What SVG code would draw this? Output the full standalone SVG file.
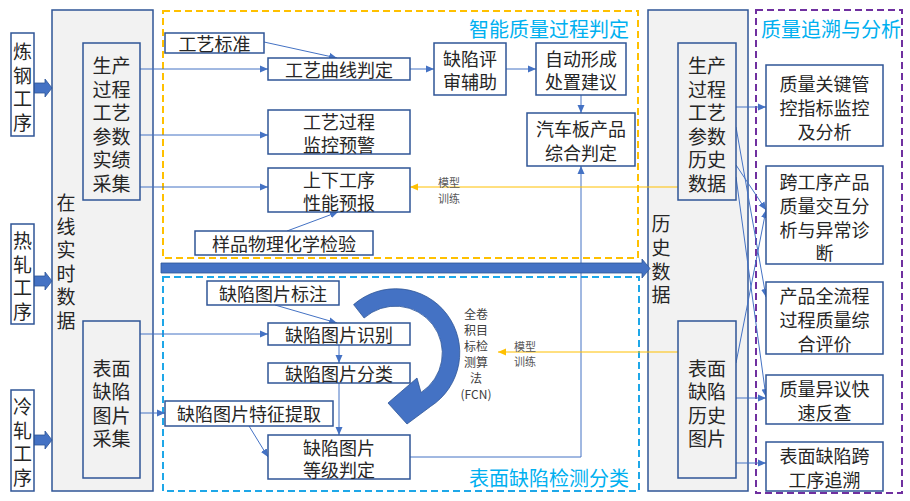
<svg xmlns="http://www.w3.org/2000/svg" width="910" height="501" viewBox="0 0 910 501">
<style>
.box{fill:#ffffff;stroke:#2f5597;stroke-width:1.5}
.gbox{fill:#f2f2f2;stroke:#2f5597;stroke-width:1.5}
.t{font-family:"Noto Sans CJK SC","Liberation Sans",sans-serif;font-size:18px;fill:#262626;text-anchor:middle;dominant-baseline:central}
.v{font-size:19px}
.title{font-family:"Noto Sans CJK SC","Liberation Sans",sans-serif;font-size:20px;fill:#00b0f0;text-anchor:middle;dominant-baseline:central}
.small{font-family:"Noto Sans CJK SC","Liberation Sans",sans-serif;font-size:11px;fill:#595959;text-anchor:middle;dominant-baseline:central}
.fcn{font-family:"Noto Sans CJK SC","Liberation Sans",sans-serif;font-size:12px;fill:#404040;text-anchor:middle;dominant-baseline:central}
.conn{stroke:#4472c4;stroke-width:1;fill:none;marker-end:url(#ab)}
.yconn{stroke:#ffc000;stroke-width:1;fill:none;marker-end:url(#ay)}
.thick{fill:#4472c4;stroke:#2f5597;stroke-width:0.8}
</style>
<defs>
<marker id="ab" viewBox="0 0 8 8" refX="8" refY="4" markerWidth="8" markerHeight="8" markerUnits="userSpaceOnUse" orient="auto"><path d="M0,0.5 L8,4 L0,7.5 Z" fill="#4472c4"/></marker>
<marker id="ay" viewBox="0 0 8 8" refX="8" refY="4" markerWidth="8" markerHeight="8" markerUnits="userSpaceOnUse" orient="auto"><path d="M0,0.5 L8,4 L0,7.5 Z" fill="#ffc000"/></marker>
</defs>
<rect width="910" height="501" fill="#ffffff"/>

<!-- region frames -->
<g id="frames">
<rect x="163" y="11" width="475" height="247" fill="none" stroke="#ffc000" stroke-width="2" stroke-dasharray="7 4"/>
<text class="title" x="549" y="28">智能质量过程判定</text>
<rect x="163" y="277" width="476" height="214" fill="none" stroke="#1ea7e8" stroke-width="2" stroke-dasharray="7 4"/>
<text class="title" x="549" y="477">表面缺陷检测分类</text>
<rect x="756" y="10" width="146" height="483" fill="none" stroke="#7030a0" stroke-width="2" stroke-dasharray="7 4"/>
<text class="title" x="831" y="28">质量追溯与分析</text>
</g>

<!-- big containers -->
<g id="online">
<rect class="gbox" x="52" y="10" width="101" height="481"/>
<text class="t v" x="66"><tspan x="66" y="201">在</tspan><tspan x="66" y="224.5">线</tspan><tspan x="66" y="248">实</tspan><tspan x="66" y="271.5">时</tspan><tspan x="66" y="295">数</tspan><tspan x="66" y="318.5">据</tspan></text>
</g>
<g id="history">
<rect class="gbox" x="648" y="10" width="100" height="481"/>
<text class="t v" x="661"><tspan x="661" y="222">历</tspan><tspan x="661" y="246">史</tspan><tspan x="661" y="270">数</tspan><tspan x="661" y="293">据</tspan></text>
</g>

<!-- connectors -->
<g id="connectors">
<line class="conn" x1="140" y1="69" x2="268" y2="69"/>
<line class="conn" x1="140" y1="135" x2="268" y2="135"/>
<line class="conn" x1="140" y1="187" x2="268" y2="187"/>
<line class="conn" x1="264" y1="42" x2="337" y2="58"/>
<line class="conn" x1="410" y1="69" x2="434" y2="69"/>
<line class="conn" x1="506" y1="69" x2="536" y2="69"/>
<line class="conn" x1="581" y1="95" x2="581" y2="113"/>
<line class="conn" x1="287" y1="231" x2="338" y2="212"/>
<polyline class="conn" points="410,457 581,457 581,166"/>
<line class="conn" x1="275" y1="305" x2="337" y2="323"/>
<line class="conn" x1="140" y1="334" x2="268" y2="334"/>
<line class="conn" x1="339" y1="345" x2="339" y2="363"/>
<line class="conn" x1="339" y1="383" x2="339" y2="435"/>
<line class="conn" x1="140" y1="413" x2="165" y2="413"/>
<line class="conn" x1="249" y1="426" x2="268" y2="457"/>
<line class="yconn" x1="678" y1="187" x2="410" y2="187"/>
<line class="yconn" x1="678" y1="352" x2="498" y2="352"/>
<line class="conn" x1="736" y1="107" x2="766" y2="107"/>
<line class="conn" x1="736" y1="127" x2="766" y2="297"/>
<line class="conn" x1="736" y1="165" x2="766" y2="210"/>
<line class="conn" x1="736" y1="177" x2="766" y2="397"/>
<line class="conn" x1="736" y1="363" x2="766" y2="210"/>
<line class="conn" x1="736" y1="398" x2="766" y2="398"/>
<line class="conn" x1="736" y1="463" x2="766" y2="463"/>
</g>

<!-- thick arrows -->
<g id="thick-arrows">
<polygon class="thick" points="34,83 45,83 45,79 52,88 45,97 45,93 34,93"/>
<polygon class="thick" points="34,276 45,276 45,272 52,281 45,290 45,286 34,286"/>
<polygon class="thick" points="34,435 45,435 45,431 52,440 45,449 45,445 34,445"/>
<polygon class="thick" points="161,263 642,263 642,259 650,268.5 642,278 642,273 161,273"/>
<path class="thick" d="M353.6,304.6 A64,64 0 1 1 430.5,406.5 L407,424 L388,403 L417,378 L421,392.5 A47,47 0 1 0 364.1,318 Z"/>
</g>

<!-- source nodes -->
<g id="steelmaking"><rect class="box" x="11" y="33" width="23" height="103"/>
<text class="t v"><tspan x="22.5" y="50">炼</tspan><tspan x="22.5" y="73.5">钢</tspan><tspan x="22.5" y="97">工</tspan><tspan x="22.5" y="120.5">序</tspan></text></g>
<g id="hotrolling"><rect class="box" x="11" y="224" width="23" height="100"/>
<text class="t v"><tspan x="22.5" y="239">热</tspan><tspan x="22.5" y="262.5">轧</tspan><tspan x="22.5" y="286">工</tspan><tspan x="22.5" y="309.5">序</tspan></text></g>
<g id="coldrolling"><rect class="box" x="11" y="390" width="23" height="101"/>
<text class="t v"><tspan x="22.5" y="405">冷</tspan><tspan x="22.5" y="428.5">轧</tspan><tspan x="22.5" y="452">工</tspan><tspan x="22.5" y="475.5">序</tspan></text></g>

<g id="online-process"><rect class="gbox" x="83" y="43" width="57" height="157"/>
<text class="t v"><tspan x="111.5" y="64">生产</tspan><tspan x="111.5" y="87.5">过程</tspan><tspan x="111.5" y="111">工艺</tspan><tspan x="111.5" y="134.5">参数</tspan><tspan x="111.5" y="158">实绩</tspan><tspan x="111.5" y="181.5">采集</tspan></text></g>
<g id="online-defect"><rect class="gbox" x="83" y="321" width="57" height="157"/>
<text class="t v"><tspan x="111.5" y="366.5">表面</tspan><tspan x="111.5" y="390">缺陷</tspan><tspan x="111.5" y="413.5">图片</tspan><tspan x="111.5" y="437">采集</tspan></text></g>

<g id="hist-process"><rect class="gbox" x="678" y="43" width="58" height="157"/>
<text class="t v"><tspan x="707" y="64">生产</tspan><tspan x="707" y="87.5">过程</tspan><tspan x="707" y="111">工艺</tspan><tspan x="707" y="134.5">参数</tspan><tspan x="707" y="158">历史</tspan><tspan x="707" y="181.5">数据</tspan></text></g>
<g id="hist-defect"><rect class="gbox" x="678" y="321" width="58" height="157"/>
<text class="t v"><tspan x="707" y="366.5">表面</tspan><tspan x="707" y="390">缺陷</tspan><tspan x="707" y="413.5">历史</tspan><tspan x="707" y="437">图片</tspan></text></g>

<!-- quality process nodes -->
<g id="std"><rect class="box" x="165" y="33" width="99" height="20"/><text class="t" x="214.5" y="43">工艺标准</text></g>
<g id="curve"><rect class="box" x="268" y="58" width="142" height="22"/><text class="t" x="339" y="69">工艺曲线判定</text></g>
<g id="monitor"><rect class="box" x="268" y="110" width="142" height="44"/><text class="t"><tspan x="339" y="121">工艺过程</tspan><tspan x="339" y="144">监控预警</tspan></text></g>
<g id="forecast"><rect class="box" x="268" y="168" width="142" height="44"/><text class="t"><tspan x="339" y="179">上下工序</tspan><tspan x="339" y="202">性能预报</tspan></text></g>
<g id="sample"><rect class="box" x="195" y="231" width="178" height="24"/><text class="t" x="284" y="243">样品物理化学检验</text></g>
<g id="review"><rect class="box" x="434" y="43" width="72" height="52"/><text class="t"><tspan x="470" y="58">缺陷评</tspan><tspan x="470" y="81">审辅助</tspan></text></g>
<g id="suggest"><rect class="box" x="536" y="43" width="90" height="52"/><text class="t"><tspan x="581" y="58">自动形成</tspan><tspan x="581" y="81">处置建议</tspan></text></g>
<g id="judge"><rect class="box" x="527" y="113" width="108" height="53"/><text class="t"><tspan x="581" y="128">汽车板产品</tspan><tspan x="581" y="152">综合判定</tspan></text></g>

<!-- defect nodes -->
<g id="label"><rect class="box" x="207" y="281" width="132" height="24"/><text class="t" x="273" y="293">缺陷图片标注</text></g>
<g id="recog"><rect class="box" x="268" y="323" width="142" height="22"/><text class="t" x="339" y="334">缺陷图片识别</text></g>
<g id="classify"><rect class="box" x="268" y="363" width="142" height="20"/><text class="t" x="339" y="373">缺陷图片分类</text></g>
<g id="feature"><rect class="box" x="165" y="401" width="168" height="25"/><text class="t" x="249" y="413">缺陷图片特征提取</text></g>
<g id="grade"><rect class="box" x="268" y="435" width="142" height="44"/><text class="t"><tspan x="339" y="447">缺陷图片</tspan><tspan x="339" y="469">等级判定</tspan></text></g>

<g id="fcn"><text class="fcn"><tspan x="476" y="313">全卷</tspan><tspan x="476" y="329">积目</tspan><tspan x="476" y="345">标检</tspan><tspan x="476" y="361">测算</tspan><tspan x="476" y="377">法</tspan><tspan x="476" y="393">(FCN)</tspan></text></g>
<g id="labels"><text class="small"><tspan x="449" y="182">模型</tspan><tspan x="449" y="198">训练</tspan></text>
<text class="small"><tspan x="525" y="346">模型</tspan><tspan x="525" y="361">训练</tspan></text></g>

<!-- analysis nodes -->
<g id="kpi"><rect class="box" x="766" y="65" width="117" height="81"/><text class="t"><tspan x="824.5" y="83">质量关键管</tspan><tspan x="824.5" y="107">控指标监控</tspan><tspan x="824.5" y="131">及分析</tspan></text></g>
<g id="cross"><rect class="box" x="766" y="166" width="117" height="98"/><text class="t"><tspan x="824.5" y="181">跨工序产品</tspan><tspan x="824.5" y="205">质量交互分</tspan><tspan x="824.5" y="229">析与异常诊</tspan><tspan x="824.5" y="252">断</tspan></text></g>
<g id="eval"><rect class="box" x="766" y="282" width="117" height="72"/><text class="t"><tspan x="824.5" y="295">产品全流程</tspan><tspan x="824.5" y="319">过程质量综</tspan><tspan x="824.5" y="343">合评价</tspan></text></g>
<g id="dispute"><rect class="box" x="766" y="375" width="117" height="49"/><text class="t"><tspan x="824.5" y="388">质量异议快</tspan><tspan x="824.5" y="412">速反查</tspan></text></g>
<g id="trace"><rect class="box" x="766" y="442" width="117" height="49"/><text class="t"><tspan x="824.5" y="455">表面缺陷跨</tspan><tspan x="824.5" y="479">工序追溯</tspan></text></g>
</svg>
